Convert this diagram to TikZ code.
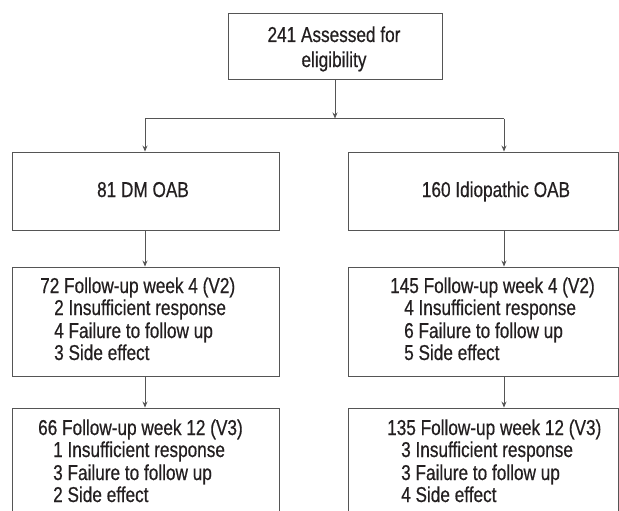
\documentclass[tikz,border=0pt]{standalone}
\usepackage{fontspec}
\setmainfont[FakeStretch=0.80,FakeBold=0.5]{Liberation Sans}
\usetikzlibrary{arrows.meta}
\definecolor{linec}{HTML}{555555}
\definecolor{textc}{HTML}{231F20}
\tikzset{
  box/.style={draw=linec, line width=0.9pt, rectangle, inner sep=0pt},
  txt/.style={text=textc, font=\fontsize{21.5}{24}\selectfont, inner sep=0pt},
  arr/.style={draw=linec, line width=0.9pt, -{Stealth[length=6pt,width=5pt]}},
  ln/.style={draw=linec, line width=0.9pt}
}
\begin{document}
\begin{tikzpicture}[x=1pt,y=-1pt]
\useasboundingbox[fill=white] (0,0) rectangle (619,511);
\clip (0,0) rectangle (619,511);
% boxes
\node[box, minimum width=214pt, minimum height=66pt] (top) at (335,46) {};
\node[box, minimum width=267pt, minimum height=78pt] (L1) at (145.5,191) {};
\node[box, minimum width=270pt, minimum height=78pt] (R1) at (483,191) {};
\node[box, minimum width=267pt, minimum height=109pt] (L2) at (145.5,321.5) {};
\node[box, minimum width=270pt, minimum height=109pt] (R2) at (483,321.5) {};
\node[box, minimum width=267pt, minimum height=140pt] (L3) at (145.5,478) {};
\node[box, minimum width=270pt, minimum height=140pt] (R3) at (483,478) {};
% texts
\node[txt, anchor=base] (t0a) at (334,42) {241 Assessed for};
\node[txt, anchor=base] (t0b) at (334,67) {eligibility};
\node[txt, anchor=base] (tL1) at (143,197) {81 DM OAB};
\node[txt, anchor=base] (tR1) at (496,197) {160 Idiopathic OAB};
\node[txt, anchor=base west] (tL2a) at (40,293) {72 Follow-up week 4 (V2)};
\node[txt, anchor=base west] (tL2b) at (54,315) {2 Insufficient response};
\node[txt, anchor=base west] (tL2c) at (54,338) {4 Failure to follow up};
\node[txt, anchor=base west] (tL2d) at (54,360) {3 Side effect};
\node[txt, anchor=base west] (tR2a) at (390,293) {145 Follow-up week 4 (V2)};
\node[txt, anchor=base west] (tR2b) at (404,315) {4 Insufficient response};
\node[txt, anchor=base west] (tR2c) at (404,338) {6 Failure to follow up};
\node[txt, anchor=base west] (tR2d) at (404,360) {5 Side effect};
\node[txt, anchor=base west] (tL3a) at (38,435) {66 Follow-up week 12 (V3)};
\node[txt, anchor=base west] (tL3b) at (53,457) {1 Insufficient response};
\node[txt, anchor=base west] (tL3c) at (53,480) {3 Failure to follow up};
\node[txt, anchor=base west] (tL3d) at (53,502) {2 Side effect};
\node[txt, anchor=base west] (tR3a) at (387,435) {135 Follow-up week 12 (V3)};
\node[txt, anchor=base west] (tR3b) at (401,457) {3 Insufficient response};
\node[txt, anchor=base west] (tR3c) at (401,480) {3 Failure to follow up};
\node[txt, anchor=base west] (tR3d) at (401,502) {4 Side effect};
% connectors
\coordinate (jM) at (335,118.5);
\coordinate (jL) at (145,118.5);
\coordinate (jR) at (504,118.5);
\draw[ln] (jL) -- (jR);
\draw[arr] (top.south) -- (jM);
\draw[arr] (jL) -- (jL |- L1.north);
\draw[arr] (jR) -- (jR |- R1.north);
\draw[arr] (L1.south -| jL) -- (L2.north -| jL);
\draw[arr] (R1.south -| jR) -- (R2.north -| jR);
\draw[arr] (L2.south -| jL) -- (L3.north -| jL);
\draw[arr] (R2.south -| jR) -- (R3.north -| jR);
\end{tikzpicture}
\end{document}
